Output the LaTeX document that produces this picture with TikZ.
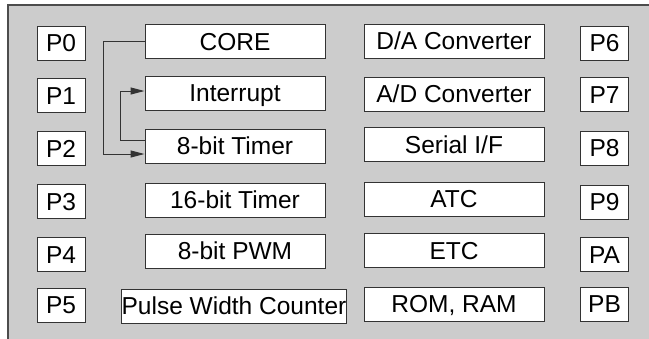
\documentclass[tikz,border=0pt]{standalone}
\usepackage{fontspec}
\setmainfont{Liberation Sans}
\usetikzlibrary{arrows.meta,calc}
\definecolor{bggray}{HTML}{CCCCCC}
\definecolor{edge}{HTML}{333333}
\begin{document}
\begin{tikzpicture}[x=1pt,y=-1pt,
  blk/.style={draw=edge,line width=1pt,fill=white,inner sep=0pt,minimum height=34pt,text height=17pt,text depth=0pt,font=\fontsize{24.5}{24.5}\selectfont},
  pbox/.style={blk,minimum width=48pt},
  mbox/.style={blk,minimum width=180pt},
  conn/.style={draw=edge,line width=1pt,-{Triangle[length=14pt,width=7pt]}}]
\useasboundingbox (0,0) rectangle (649,338);
\clip (0,0) rectangle (649,338);
\draw[draw=black!70,line width=1.5pt,fill=bggray] (8,5) rectangle (670,360);
% left ports
\node[pbox] (p0) at (61,43) {P0};
\node[pbox] (p1) at (61,95.5) {P1};
\node[pbox] (p2) at (61,148.5) {P2};
\node[pbox] (p3) at (61,201.5) {P3};
\node[pbox] (p4) at (61,254.5) {P4};
\node[pbox] (p5) at (61,305) {P5};
% middle-left blocks
\node[mbox] (core) at (235,41.5) {CORE};
\node[mbox] (intr) at (235,93) {Interrupt};
\node[mbox] (tmr8) at (235,146) {8-bit Timer};
\node[mbox] (tmr16) at (235,200) {16-bit Timer};
\node[mbox] (pwm) at (235,251) {8-bit PWM};
\node[blk,minimum width=224pt] (pwc) at (234,306) {Pulse Width Counter};
% middle-right blocks
\node[mbox] (da) at (454,41) {D/A Converter};
\node[mbox] (ad) at (454,94) {A/D Converter};
\node[mbox] (sif) at (454,144.5) {Serial I/F};
\node[mbox] (atc) at (454,199) {ATC};
\node[mbox] (etc) at (454,250.5) {ETC};
\node[mbox] (mem) at (454,304) {ROM, RAM};
% right ports
\node[pbox] (p6) at (604.5,43) {P6};
\node[pbox] (p7) at (604.5,94.5) {P7};
\node[pbox] (p8) at (604.5,148) {P8};
\node[pbox] (p9) at (604.5,202) {P9};
\node[pbox] (pa) at (604.5,254.5) {PA};
\node[pbox] (pb) at (604.5,304) {PB};
% connectors
\coordinate (c1) at (103,41.5);
\coordinate (c2) at (120,140);
\draw[conn] (core.west) -- (c1) |- ($(tmr8.west)+(0,8)$);
\draw[conn] ($(tmr8.west)+(0,-6)$) -- (c2) |- ($(intr.west)+(0,-2)$);
\end{tikzpicture}
\end{document}
